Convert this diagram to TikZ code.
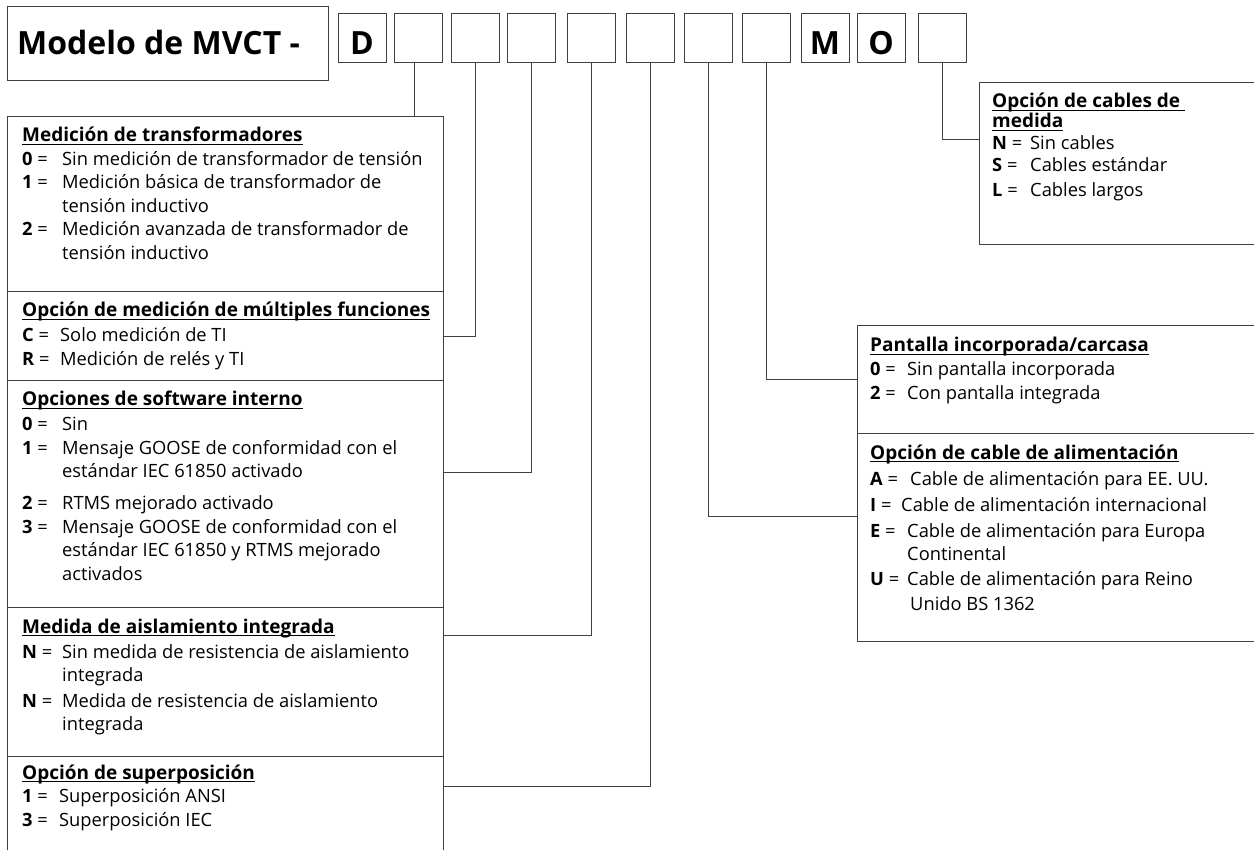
\documentclass[tikz,border=0pt]{standalone}
\usepackage{fontspec}
\setmainfont{Open Sans}
\newsavebox\hdrlinebox
\newcommand{\hdrline}[1]{\sbox\hdrlinebox{\bfseries\fontsize{19}{23.5}\selectfont #1}\usebox\hdrlinebox\llap{\rule[-3.2pt]{\wd\hdrlinebox}{1.2pt}}}
\newcommand{\optline}[3][40pt]{\makebox[#1][l]{\textbf{#2} =}#3}
\newcommand{\contline}[2][40pt]{\hspace*{#1}#2}
\begin{document}
\begin{tikzpicture}[x=1pt,y=-1pt,
  ln/.style={line width=1.1pt,draw=black!75},
  conn/.style={line width=1pt,draw=black!75},
  digitbox/.style={ln,draw,anchor=north west,inner sep=0pt,minimum width=48pt,minimum height=49pt},
  secbox/.style={ln,draw,anchor=north west,inner sep=0pt},
  letter/.style={anchor=base,inner sep=0pt,font=\bfseries\fontsize{32}{32}\selectfont},
  sectext/.style={anchor=base west,inner sep=0pt,font=\fontsize{18.3}{23.5}\selectfont},
]
\useasboundingbox (0,0) rectangle (1254,850);
\clip (0,0) rectangle (1254,850);
\fill[white] (0,0) rectangle (1254,850);

% title
\node[secbox,minimum width=321pt,minimum height=74pt] (tbox) at (7,6) {};
\node[anchor=base west,inner sep=0pt,font=\bfseries\fontsize{32}{32}\selectfont] (ttl) at (17,55) {Modelo de MVCT -};

% digit boxes
\node[digitbox] (b0) at (338,13) {};
\node[digitbox] (b1) at (394,13) {};
\node[digitbox] (b2) at (451,13) {};
\node[digitbox] (b3) at (507,13) {};
\node[digitbox] (b4) at (567,13) {};
\node[digitbox] (b5) at (626,13) {};
\node[digitbox] (b6) at (684,13) {};
\node[digitbox] (b7) at (742,13) {};
\node[digitbox] (bM) at (801,13) {};
\node[digitbox] (bO) at (857,13) {};
\node[digitbox] (b8) at (918,13) {};
\node[letter] (lD) at (362,55) {D};
\node[letter] (lM) at (825,55) {M};
\node[letter] (lO) at (881,55) {O};

% left column sections
\node[secbox,minimum width=436pt,minimum height=175pt] (s1) at (7,116) {};
\node[secbox,minimum width=436pt,minimum height=89pt] (s2) at (7,291) {};
\node[secbox,minimum width=436pt,minimum height=227pt] (s3) at (7,380) {};
\node[secbox,minimum width=436pt,minimum height=149pt] (s4) at (7,607) {};
\node[secbox,minimum width=436pt,minimum height=130pt] (s5) at (7,756) {};

% right boxes
\node[secbox,minimum width=320pt,minimum height=162pt] (r1) at (979,82) {};
\node[secbox,minimum width=420pt,minimum height=108pt] (r2) at (857,325) {};
\node[secbox,minimum width=420pt,minimum height=208pt] (r3) at (857,433) {};

% texts
\node[sectext] (t1) at (22,142) {\begin{tabular}[t]{@{}l@{}}
\hdrline{Medición de transformadores}\\
\optline{0}{Sin medición de transformador de tensión}\\
\optline{1}{Medición básica de transformador de}\\
\contline{tensión inductivo}\\
\optline{2}{Medición avanzada de transformador de}\\
\contline{tensión inductivo}
\end{tabular}};

\node[sectext] (t2) at (22,317) {\begin{tabular}[t]{@{}l@{}}
\hdrline{Opción de medición de múltiples funciones}\\[1.5pt]
\optline[38pt]{C}{Solo medición de TI}\\
\optline[38pt]{R}{Medición de relés y TI}
\end{tabular}};

\node[sectext] (t3) at (22,406) {\begin{tabular}[t]{@{}l@{}}
\hdrline{Opciones de software interno}\\[1.5pt]
\optline{0}{Sin}\\
\optline{1}{Mensaje GOOSE de conformidad con el}\\
\contline{estándar IEC 61850 activado}\\[8.5pt]
\optline{2}{RTMS mejorado activado}\\
\optline{3}{Mensaje GOOSE de conformidad con el}\\
\contline{estándar IEC 61850 y RTMS mejorado}\\
\contline{activados}
\end{tabular}};

\node[sectext] (t4) at (22,633) {\begin{tabular}[t]{@{}l@{}}
\hdrline{Medida de aislamiento integrada}\\[1.5pt]
\optline{N}{Sin medida de resistencia de aislamiento}\\
\contline{integrada}\\[2pt]
\optline{N}{Medida de resistencia de aislamiento}\\
\contline{integrada}
\end{tabular}};

\node[sectext] (t5) at (22,779) {\begin{tabular}[t]{@{}l@{}}
\hdrline{Opción de superposición}\\
\optline[37pt]{1}{Superposición ANSI}\\
\optline[37pt]{3}{Superposición IEC}
\end{tabular}};

\node[sectext] (tr1) at (992,108) {\begin{tabular}[t]{@{}l@{}}
\hdrline{Opción de cables de }\\[-3.5pt]
\hdrline{medida}\\[-1.5pt]
\optline[38pt]{N}{Sin cables}\\[-1.5pt]
\optline[38pt]{S}{Cables estándar}\\[1.5pt]
\optline[38pt]{L}{Cables largos}
\end{tabular}};

\node[sectext] (tr2) at (870,352) {\begin{tabular}[t]{@{}l@{}}
\hdrline{Pantalla incorporada/carcasa}\\[0.5pt]
\optline[37pt]{0}{Sin pantalla incorporada}\\[0.5pt]
\optline[37pt]{2}{Con pantalla integrada}
\end{tabular}};

\node[sectext,font=\fontsize{18.3}{25.5}\selectfont] (tr3) at (870,459) {\begin{tabular}[t]{@{}l@{}}
\hdrline{Opción de cable de alimentación}\\[1.5pt]
\optline[40pt]{A}{Cable de alimentación para EE. UU.}\\
\optline[31pt]{I}{Cable de alimentación internacional}\\
\optline[37pt]{E}{Cable de alimentación para Europa}\\[-2pt]
\contline[37pt]{Continental}\\
\optline[37pt]{U}{Cable de alimentación para Reino}\\[-1pt]
\contline[40pt]{Unido BS 1362}
\end{tabular}};

% connectors
\draw[conn] ([xshift=-4pt]b1.south) -- ([xshift=-4pt]b1.south |- s1.north);
\draw[conn] (b2.south) |- (s2.east);
\draw[conn] (b3.south) |- ([yshift=-92pt]s3.north east);
\draw[conn] (b4.south) |- ([yshift=-28pt]s4.north east);
\draw[conn] (b5.south) |- ([yshift=-30pt]s5.north east);
\draw[conn] (b6.south) |- ([yshift=-83pt]r3.north west);
\draw[conn] (b7.south) |- (r2.west);
\draw[conn] (b8.south) |- ([yshift=-58pt]r1.north west);
\end{tikzpicture}
\end{document}
